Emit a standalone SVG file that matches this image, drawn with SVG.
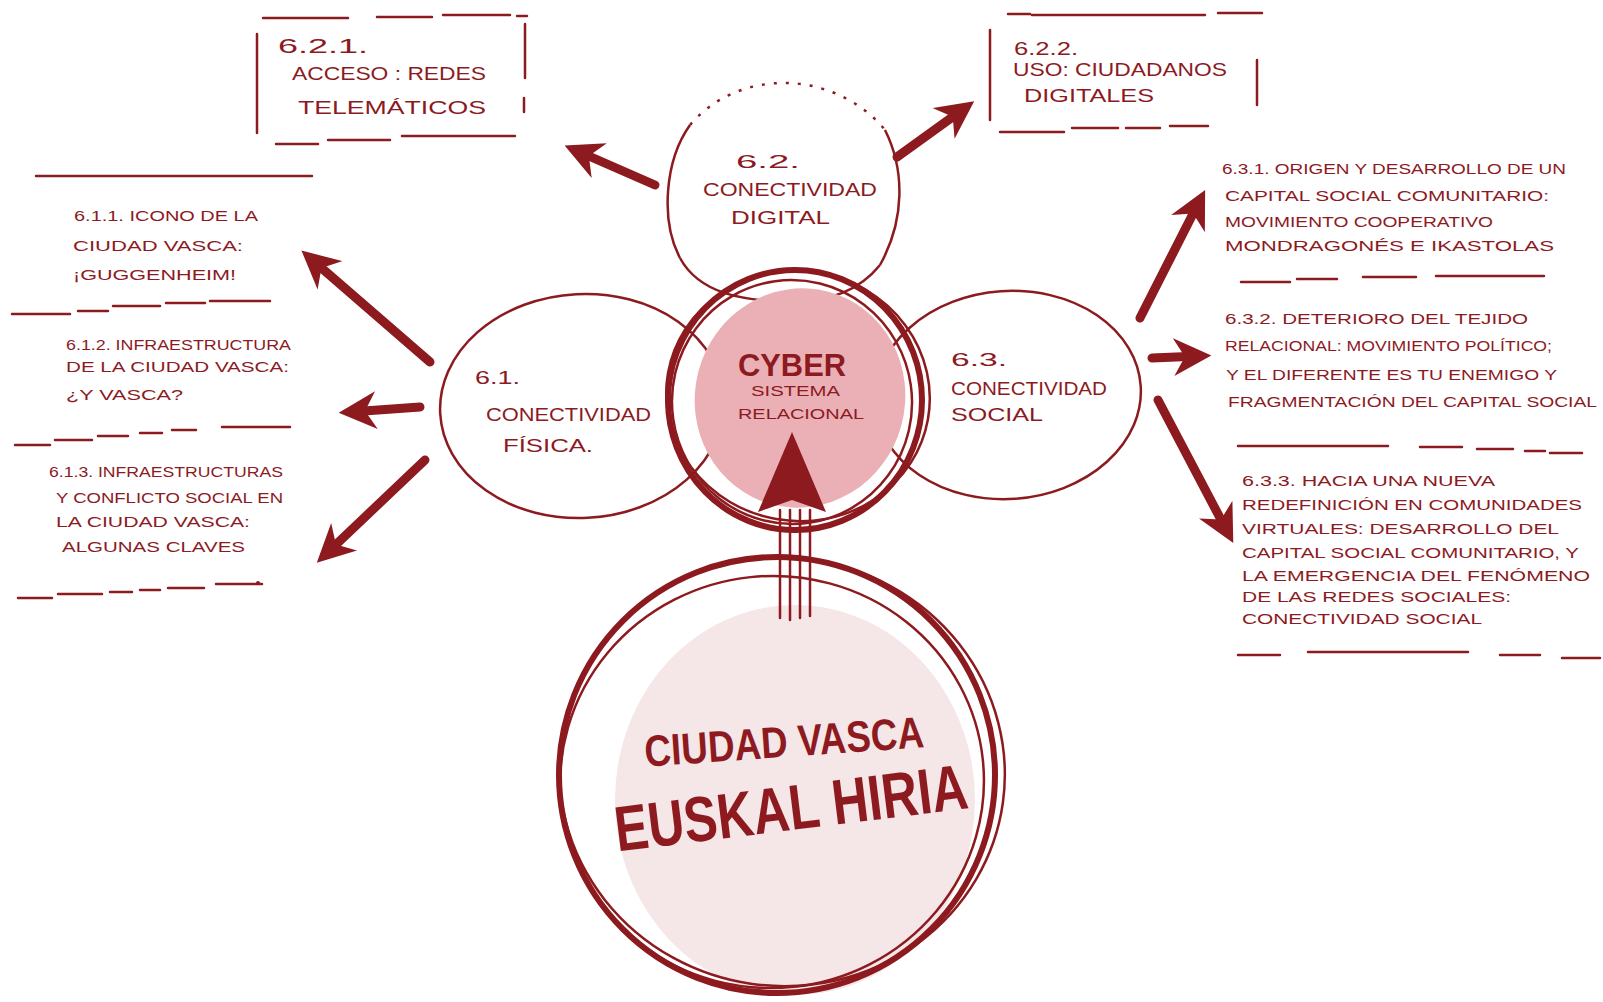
<svg xmlns="http://www.w3.org/2000/svg" width="1603" height="1002" viewBox="0 0 1603 1002">
<style>
.t{font-family:"Liberation Sans","DejaVu Sans",sans-serif;fill:#8c1a1f;font-size:15px;}
.s{font-size:14px;}
.lb{font-size:19px;}
.ln{stroke:#8c1a1f;stroke-width:2.5;fill:none;stroke-linecap:round;}
.c{stroke:#8c1a1f;fill:none;stroke-width:2.5;}
.ck{stroke:#8c1a1f;fill:none;stroke-width:6;}
.ar{stroke:#8c1a1f;stroke-width:9;fill:none;stroke-linecap:round;}
</style>
<defs>
<marker id="ah" viewBox="0 0 10 10" refX="7" refY="5" markerWidth="4.2" markerHeight="4.2" orient="auto" markerUnits="strokeWidth">
<path d="M0,0 L10,5 L0,10 L3,5 z" fill="#8c1a1f"/>
</marker>
</defs>
<rect width="1603" height="1002" fill="#ffffff"/>

<g id="node-ciudad-vasca">
<ellipse cx="795" cy="800" rx="180" ry="195" fill="#f5e6e8"/>
<ellipse cx="777" cy="775" rx="218" ry="218" class="ck" stroke-width="5"/>
<ellipse cx="772" cy="782" rx="212" ry="206" class="c" stroke-width="4" transform="rotate(-6 772 782)"/>
<ellipse cx="782" cy="772" rx="223" ry="214" class="c" stroke-width="3.5" transform="rotate(8 782 772)"/>
<text class="t" x="784" y="757" style="font-size:44px;font-weight:bold" text-anchor="middle" textLength="280" lengthAdjust="spacingAndGlyphs" transform="rotate(-4 784 740)">CIUDAD VASCA</text>
<text class="t" x="791" y="830" style="font-size:64px;font-weight:bold" text-anchor="middle" textLength="355" lengthAdjust="spacingAndGlyphs" transform="rotate(-7 791 808)">EUSKAL HIRIA</text>
</g>

<g id="node-6-2">
<path d="M680,258 C660,220 665,160 690,125" class="c" stroke-width="2"/>
<path d="M880,265 C905,220 905,170 885,130" class="c" stroke-width="2"/>
<path d="M690,125 C720,90 760,82 790,83 C830,85 865,105 885,130" class="c" stroke-width="1.8" stroke-dasharray="3 9"/>
<path d="M680,258 C700,295 745,300 785,302 C830,303 860,290 880,265" class="c" stroke-width="2.2"/>
<text class="t lb" x="736" y="168" textLength="64" lengthAdjust="spacingAndGlyphs">6.2.</text>
<text class="t lb" x="703" y="196" textLength="174" lengthAdjust="spacingAndGlyphs">CONECTIVIDAD</text>
<text class="t lb" x="731" y="224" textLength="99" lengthAdjust="spacingAndGlyphs">DIGITAL</text>
</g>

<g id="node-6-1">
<ellipse cx="582" cy="406" rx="142" ry="112" class="c" transform="rotate(-3 582 406)"/>
<text class="t lb" x="475" y="384" textLength="45" lengthAdjust="spacingAndGlyphs">6.1.</text>
<text class="t lb" x="486" y="421" textLength="165" lengthAdjust="spacingAndGlyphs">CONECTIVIDAD</text>
<text class="t lb" x="503" y="452" textLength="90" lengthAdjust="spacingAndGlyphs">FÍSICA.</text>
</g>

<g id="node-6-3">
<ellipse cx="1008" cy="395" rx="133" ry="104" class="c" transform="rotate(-4 1008 395)"/>
<text class="t lb" x="951" y="366" textLength="56" lengthAdjust="spacingAndGlyphs">6.3.</text>
<text class="t lb" x="951" y="395" textLength="156" lengthAdjust="spacingAndGlyphs">CONECTIVIDAD</text>
<text class="t lb" x="951" y="421" textLength="92" lengthAdjust="spacingAndGlyphs">SOCIAL</text>
</g>

<g id="node-cyber">
<ellipse cx="800" cy="398" rx="105" ry="110" fill="#eab0b6" transform="rotate(15 800 398)"/>
<ellipse cx="795" cy="400" rx="127" ry="130" class="ck" stroke-width="7"/>
<ellipse cx="792" cy="402" rx="120" ry="122" class="c" stroke-width="3.5" transform="rotate(-8 792 402)"/>
<ellipse cx="798" cy="396" rx="132" ry="125" class="c" stroke-width="3" transform="rotate(10 798 396)"/>
<text class="t" x="738" y="376" style="font-size:31px;font-weight:bold" textLength="108" lengthAdjust="spacingAndGlyphs">CYBER</text>
<text class="t" x="751" y="396" style="font-size:14px" textLength="89" lengthAdjust="spacingAndGlyphs">SISTEMA</text>
<text class="t" x="738" y="419" style="font-size:14px" textLength="126" lengthAdjust="spacingAndGlyphs">RELACIONAL</text>
</g>

<g id="node-6-2-1">
<path d="M263,18 H348 M377,17 H432 M443,15 H510 M517,16 H527" class="ln"/>
<path d="M257,34 V133" class="ln"/>
<path d="M525,24 V78 M524,98 V112" class="ln"/>
<path d="M276,144 H318 M328,140 H390 M402,136 H515" class="ln"/>
<text class="t" x="278" y="53" style="font-size:20px" textLength="90" lengthAdjust="spacingAndGlyphs">6.2.1.</text>
<text class="t" x="292" y="80" style="font-size:18px" textLength="194" lengthAdjust="spacingAndGlyphs">ACCESO : REDES</text>
<text class="t" x="298" y="114" style="font-size:18px" textLength="188" lengthAdjust="spacingAndGlyphs">TELEMÁTICOS</text>
</g>

<g id="node-6-2-2">
<path d="M1008,14 H1030 M1032,15 H1205 M1218,13 H1262" class="ln"/>
<path d="M990,30 V120" class="ln"/>
<path d="M1257,60 V105" class="ln"/>
<path d="M1000,132 H1064 M1072,128 H1118 M1126,128 H1160 M1170,126 H1208" class="ln"/>
<text class="t" x="1014" y="55" style="font-size:18px" textLength="64" lengthAdjust="spacingAndGlyphs">6.2.2.</text>
<text class="t" x="1013" y="76" style="font-size:18px" textLength="214" lengthAdjust="spacingAndGlyphs">USO: CIUDADANOS</text>
<text class="t" x="1024" y="102" style="font-size:18px" textLength="130" lengthAdjust="spacingAndGlyphs">DIGITALES</text>
</g>

<g id="node-6-1-1">
<path d="M36,176 H312" class="ln"/>
<text class="t" x="74" y="221" textLength="184" lengthAdjust="spacingAndGlyphs">6.1.1. ICONO DE LA</text>
<text class="t" x="73" y="251" textLength="170" lengthAdjust="spacingAndGlyphs">CIUDAD VASCA:</text>
<text class="t" x="73" y="280" textLength="163" lengthAdjust="spacingAndGlyphs">¡GUGGENHEIM!</text>
</g>

<g id="node-6-1-2">
<path d="M12,314 H70 M78,311 H108 M113,306 H160 M166,303 H205 M210,301 H270" class="ln"/>
<text class="t" x="66" y="350" textLength="225" lengthAdjust="spacingAndGlyphs">6.1.2. INFRAESTRUCTURA</text>
<text class="t" x="66" y="372" textLength="223" lengthAdjust="spacingAndGlyphs">DE LA CIUDAD VASCA:</text>
<text class="t" x="66" y="400" textLength="117" lengthAdjust="spacingAndGlyphs">¿Y VASCA?</text>
</g>

<g id="node-6-1-3">
<path d="M15,445 H50 M55,440 H92 M98,436 H128 M140,433 H162 M172,430 H196 M222,427 H290" class="ln"/>
<text class="t" x="49" y="477" textLength="234" lengthAdjust="spacingAndGlyphs">6.1.3. INFRAESTRUCTURAS</text>
<text class="t" x="56" y="503" textLength="227" lengthAdjust="spacingAndGlyphs">Y CONFLICTO SOCIAL EN</text>
<text class="t" x="56" y="527" textLength="194" lengthAdjust="spacingAndGlyphs">LA CIUDAD VASCA:</text>
<text class="t" x="62" y="552" textLength="183" lengthAdjust="spacingAndGlyphs">ALGUNAS CLAVES</text>
<path d="M18,598 H52 M58,594 H102 M110,592 H132 M140,590 H160 M168,588 H204 M216,584 H262" class="ln"/>
<circle cx="258" cy="583" r="2" fill="#8c1a1f"/>
</g>

<g id="node-6-3-1">
<text class="t s" x="1222" y="174" textLength="344" lengthAdjust="spacingAndGlyphs">6.3.1. ORIGEN Y DESARROLLO DE UN</text>
<text class="t s" x="1225" y="201" textLength="324" lengthAdjust="spacingAndGlyphs">CAPITAL SOCIAL COMUNITARIO:</text>
<text class="t s" x="1225" y="227" textLength="268" lengthAdjust="spacingAndGlyphs">MOVIMIENTO COOPERATIVO</text>
<text class="t s" x="1225" y="251" textLength="329" lengthAdjust="spacingAndGlyphs">MONDRAGONÉS E IKASTOLAS</text>
<path d="M1241,282 H1290 M1297,279 H1337 M1363,277 H1416 M1436,276 H1544" class="ln"/>
</g>

<g id="node-6-3-2">
<text class="t s" x="1225" y="324" textLength="303" lengthAdjust="spacingAndGlyphs">6.3.2. DETERIORO DEL TEJIDO</text>
<text class="t s" x="1225" y="351" textLength="327" lengthAdjust="spacingAndGlyphs">RELACIONAL: MOVIMIENTO POLÍTICO;</text>
<text class="t s" x="1226" y="380" textLength="331" lengthAdjust="spacingAndGlyphs">Y EL DIFERENTE ES TU ENEMIGO Y</text>
<text class="t s" x="1228" y="407" textLength="369" lengthAdjust="spacingAndGlyphs">FRAGMENTACIÓN DEL CAPITAL SOCIAL</text>
</g>

<g id="node-6-3-3">
<path d="M1238,446 H1388 M1420,447 H1462 M1477,449 H1513 M1525,451 H1545 M1550,453 H1582" class="ln"/>
<text class="t s" x="1242" y="486" textLength="253" lengthAdjust="spacingAndGlyphs">6.3.3. HACIA UNA NUEVA</text>
<text class="t s" x="1242" y="510" textLength="340" lengthAdjust="spacingAndGlyphs">REDEFINICIÓN EN COMUNIDADES</text>
<text class="t s" x="1242" y="534" textLength="317" lengthAdjust="spacingAndGlyphs">VIRTUALES: DESARROLLO DEL</text>
<text class="t s" x="1242" y="558" textLength="337" lengthAdjust="spacingAndGlyphs">CAPITAL SOCIAL COMUNITARIO, Y</text>
<text class="t s" x="1242" y="581" textLength="348" lengthAdjust="spacingAndGlyphs">LA EMERGENCIA DEL FENÓMENO</text>
<text class="t s" x="1242" y="602" textLength="269" lengthAdjust="spacingAndGlyphs">DE LAS REDES SOCIALES:</text>
<text class="t s" x="1242" y="624" textLength="240" lengthAdjust="spacingAndGlyphs">CONECTIVIDAD SOCIAL</text>
<path d="M1238,655 H1280 M1308,652 H1468 M1500,655 H1540 M1562,658 H1600" class="ln"/>
</g>

<g id="connectors">
<path d="M655,185 L575,150" class="ar" marker-end="url(#ah)"/>
<path d="M897,157 L965,108" class="ar" marker-end="url(#ah)"/>
<path d="M430,362 L310,258" class="ar" marker-end="url(#ah)"/>
<path d="M420,407 L350,412" class="ar" marker-end="url(#ah)"/>
<path d="M425,460 L325,555" class="ar" marker-end="url(#ah)"/>
<path d="M1140,318 L1200,200" class="ar" marker-end="url(#ah)"/>
<path d="M1152,358 L1200,356" class="ar" marker-end="url(#ah)"/>
<path d="M1158,400 L1228,533" class="ar" marker-end="url(#ah)"/>
<g id="arrow-up">
<path d="M780,510 V618 M790,510 V620 M800,510 V618 M810,510 V616" class="ln" stroke-width="5"/>
<path d="M792,432 L826,512 L792,500 L758,512 z" fill="#8c1a1f"/>
</g>
</g>
</svg>
